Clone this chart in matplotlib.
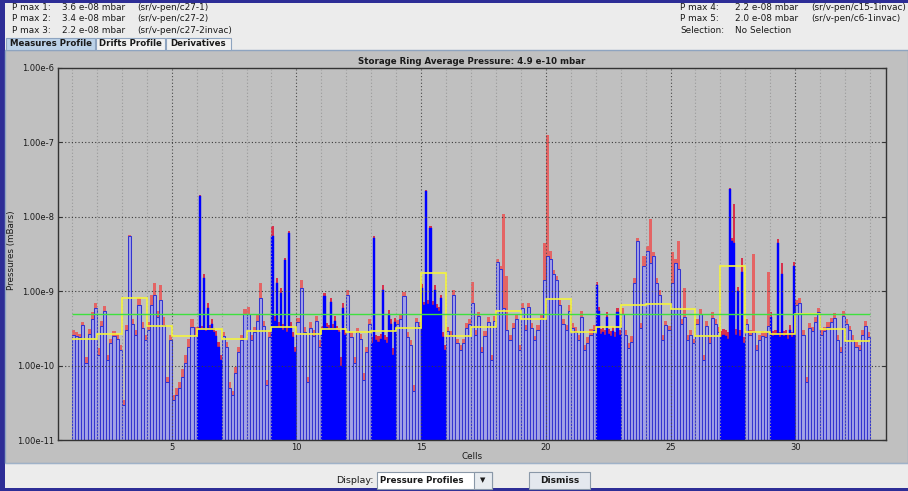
import numpy as np
import matplotlib
matplotlib.use("Agg")
import matplotlib.pyplot as plt
from matplotlib.patches import Rectangle

W, H = 908, 491
UNIT = 1e-10  # values below are in units of 1e-10 mbar

cells = list(range(1, 33))
dense_cells = [6, 9, 11, 13, 15, 22, 27, 29]
ring_average = 4.9e-10

cell_average_e10 = [2.28, 2.7, 8.0, 3.4, 2.5, 3.1, 2.25, 2.9, 3.27, 2.7, 3.1, 2.86,
                    2.95, 3.2, 17.4, 2.5, 3.33, 5.4, 4.2, 7.9, 2.86, 3.27, 6.5, 6.7,
                    5.7, 2.5, 21.8, 2.83, 2.63, 4.9, 3.1, 2.14]

blue_e10 = [
    [2.6, 2.5, 2.4, 3.5, 1.1, 2.7, 4.2, 6.0],
    [1.4, 3.4, 5.5, 1.2, 2.0, 2.5, 2.3, 1.6],
    [0.3, 3.0, 55, 3.6, 2.6, 6.5, 3.2, 2.2],
    [3.0, 6.5, 9.0, 4.5, 7.5, 3.5, 0.6, 2.2],
    [0.35, 0.4, 0.5, 0.7, 1.1, 1.8, 3.3, 2.5],
    [3.0, 190, 3.1, 15, 2.9, 6.0, 3.2, 3.6, 2.8, 2.5, 1.8, 1.2],
    [2.5, 1.8, 0.5, 0.4, 0.8, 1.5, 2.2, 5.0],
    [5.0, 2.2, 2.8, 4.0, 8.0, 3.4, 0.55, 2.4],
    [55, 4.0, 13, 3.3, 9.5, 3.0, 26, 2.8, 60, 3.2, 2.4, 1.5],
    [3.8, 11, 2.8, 0.6, 3.2, 2.5, 4.0, 1.8],
    [3.0, 8.5, 3.3, 3.1, 7.2, 3.2, 4.0, 3.0, 2.8, 1.0, 6.0, 2.6],
    [9.0, 2.4, 1.1, 2.8, 2.3, 0.65, 1.5, 3.6],
    [2.0, 52, 2.2, 2.1, 2.3, 10.5, 2.2, 2.0, 5.0, 3.6, 1.4, 3.8],
    [3.6, 4.2, 8.5, 2.4, 1.9, 0.45, 3.8, 3.4],
    [11, 6.5, 225, 6.8, 70, 6.6, 10.5, 6.0, 5.5, 8.0, 2.4, 1.6],
    [2.9, 2.5, 9.0, 2.0, 1.6, 2.0, 3.2, 3.6],
    [7.0, 2.6, 4.6, 1.5, 2.5, 3.9, 1.2, 4.0],
    [25, 20, 6.0, 3.0, 2.2, 3.2, 4.2, 1.6],
    [6.0, 3.0, 6.2, 3.2, 2.2, 3.0, 4.2, 14],
    [30, 27, 17, 14, 6.5, 3.6, 3.0, 5.5],
    [3.2, 2.8, 2.2, 4.5, 1.6, 2.0, 2.6, 3.0],
    [12, 5.5, 2.7, 2.8, 2.6, 4.5, 2.7, 2.5, 2.9, 2.4, 5.2, 2.6],
    [5.0, 2.6, 1.7, 2.1, 13, 48, 3.2, 22],
    [35, 24, 30, 13, 9.0, 2.2, 3.5, 3.0],
    [13, 24, 20, 3.6, 4.5, 2.2, 2.6, 2.0],
    [3.6, 5.0, 1.2, 3.4, 2.0, 4.4, 3.6, 2.8],
    [2.4, 2.6, 2.5, 2.3, 240, 48, 45, 2.6, 10, 2.5, 18, 2.0],
    [3.6, 2.6, 2.8, 1.6, 2.2, 2.5, 2.4, 3.4],
    [4.5, 2.5, 2.6, 44, 2.4, 17, 2.5, 2.6, 2.3, 3.0, 2.4, 22],
    [6.5, 7.0, 2.6, 0.6, 3.2, 2.9, 3.9, 5.2],
    [2.6, 2.9, 3.3, 3.8, 4.4, 2.2, 1.5, 4.6],
    [3.6, 3.0, 2.2, 1.8, 1.6, 2.6, 3.4, 2.4],
]

red_e10 = [
    [3.0, 2.8, 2.7, 3.9, 1.3, 3.1, 5.2, 7.0],
    [1.7, 4.0, 6.3, 1.4, 2.3, 2.9, 2.7, 1.9],
    [0.35, 3.5, 57, 4.2, 3.0, 8.0, 3.8, 2.6],
    [3.8, 9.0, 13, 5.5, 12, 4.5, 0.7, 2.6],
    [0.4, 0.5, 0.6, 0.9, 1.4, 2.3, 4.2, 3.3],
    [3.3, 195, 3.4, 17, 3.2, 7.0, 3.5, 4.2, 3.2, 2.9, 2.1, 1.4],
    [2.8, 2.1, 0.6, 0.45, 0.95, 1.8, 2.6, 5.8],
    [6.2, 2.6, 3.3, 4.8, 13, 4.0, 0.65, 2.8],
    [75, 4.6, 15, 3.9, 11, 3.6, 28, 3.3, 65, 3.8, 2.8, 1.8],
    [4.3, 14, 3.3, 0.7, 3.8, 3.0, 4.6, 2.2],
    [3.4, 9.5, 3.7, 3.5, 8.2, 3.6, 4.6, 3.4, 3.2, 1.3, 7.0, 3.0],
    [10.5, 2.8, 1.3, 3.2, 2.7, 0.8, 1.8, 4.2],
    [2.4, 56, 2.6, 2.5, 2.7, 12, 2.6, 2.4, 5.6, 4.2, 1.7, 4.4],
    [4.1, 4.8, 9.8, 2.8, 2.2, 0.55, 4.4, 3.9],
    [12.5, 7.2, 230, 7.5, 76, 7.4, 12, 6.8, 6.2, 9.0, 2.8, 1.9],
    [3.3, 2.9, 10.5, 2.3, 1.9, 2.3, 3.7, 4.2],
    [13.5, 3.0, 5.3, 1.8, 2.9, 4.5, 1.4, 4.6],
    [27, 22, 110, 16, 2.6, 3.7, 4.9, 1.9],
    [6.9, 3.5, 7.0, 3.7, 2.5, 3.5, 5.0, 44],
    [1260, 35, 19, 16, 7.5, 4.2, 3.5, 6.5],
    [3.7, 3.3, 2.6, 5.5, 1.9, 2.4, 3.1, 3.5],
    [13.5, 6.2, 3.1, 3.2, 3.0, 5.2, 3.1, 2.9, 3.3, 2.8, 6.0, 3.0],
    [5.9, 3.0, 2.0, 2.5, 15, 52, 3.7, 30],
    [40, 92, 34, 15, 10.5, 2.6, 4.0, 3.4],
    [34, 27, 48, 4.2, 11, 2.6, 3.0, 2.3],
    [4.2, 5.8, 1.4, 4.0, 2.4, 5.2, 4.2, 3.3],
    [2.9, 3.1, 3.0, 2.8, 245, 52, 150, 3.1, 11.5, 3.0, 28, 2.4],
    [4.2, 3.0, 32, 1.9, 2.6, 2.9, 2.8, 18],
    [5.2, 2.9, 3.0, 50, 2.8, 24, 2.9, 3.0, 2.7, 3.5, 2.8, 25],
    [7.6, 8.0, 3.0, 0.7, 3.7, 3.3, 4.5, 6.0],
    [3.0, 3.3, 3.8, 4.4, 5.1, 2.6, 1.8, 5.4],
    [4.2, 3.4, 2.6, 2.1, 1.9, 3.0, 4.0, 2.8],
]

ytick_values = [1e-11, 1e-10, 1e-9, 1e-8, 1e-7, 1e-6]
ytick_labels = ["1.00e-11", "1.00e-10", "1.00e-9", "1.00e-8", "1.00e-7", "1.00e-6"]
xtick_values = [5, 10, 15, 20, 25, 30]

pmax_left = [("P max 1:", "3.6 e-08 mbar", "(sr/v-pen/c27-1)"),
             ("P max 2:", "3.4 e-08 mbar", "(sr/v-pen/c27-2)"),
             ("P max 3:", "2.2 e-08 mbar", "(sr/v-pen/c27-2invac)")]
pmax_right = [("P max 4:", "2.2 e-08 mbar", "(sr/v-pen/c15-1invac)"),
              ("P max 5:", "2.0 e-08 mbar", "(sr/v-pen/c6-1invac)"),
              ("Selection:", "No Selection", "")]
tab_names = ["Measures Profile", "Drifts Profile", "Derivatives"]
title = "Storage Ring Average Pressure: 4.9 e-10 mbar"

# ---------------------------------------------------------------- figure
fig = plt.figure(figsize=(W / 100, H / 100), dpi=100, facecolor="#2d2d96")


def fx(x):
    return x / W


def fy(y):
    return 1 - y / H


def rect(x0, y0, x1, y1, **kw):
    kw.setdefault("zorder", 0.5)
    fig.patches.append(Rectangle((fx(x0), fy(y1)), (x1 - x0) / W, (y1 - y0) / H,
                                 transform=fig.transFigure, **kw))


def text(x, y, s, **kw):
    kw.setdefault("fontsize", 6.4)
    kw.setdefault("va", "center")
    kw.setdefault("color", "#1a1a1a")
    fig.text(fx(x), fy(y), s, **kw)


PANEL = "#ececec"
GRAY = "#c0c0c0"
rect(5, 3, 908, 488, facecolor=PANEL, edgecolor="none")
# plot panel
rect(5, 50, 908, 463, facecolor=GRAY, edgecolor="#8ea4c0", linewidth=1.0)
rect(5, 463, 908, 464, facecolor="#9fb2c8", edgecolor="none")

# info text
for row, (a, b, c) in enumerate(pmax_left):
    y = 7.5 + row * 11.3
    text(12, y, a)
    text(62, y, b)
    text(137, y, c)
for row, (a, b, c) in enumerate(pmax_right):
    y = 7.5 + row * 11.3
    text(680, y, a)
    text(735, y, b)
    text(811, y, c)

# tabs
tab_x = [(6, 95), (96, 165), (166, 231)]
for i, (name, (x0, x1)) in enumerate(zip(tab_names, tab_x)):
    fc = "#bcd2e8" if i == 0 else "#f2f2f2"
    rect(x0, 37.5, x1, 50, facecolor=fc, edgecolor="#8ea4c0", linewidth=0.8)
    text((x0 + x1) / 2, 44, name, ha="center", fontweight="bold", fontsize=6.2)

# title
text(472, 61, title, ha="center", fontweight="bold", fontsize=6.2)

# bottom controls
text(374, 480.5, "Display:", ha="right", fontsize=6.8)
rect(377, 472, 492, 488.5, facecolor="white", edgecolor="#8a98a8", linewidth=0.8)
rect(474, 472, 492, 488.5, facecolor="#e8ecf0", edgecolor="#8a98a8", linewidth=0.8)
text(380, 480.5, "Pressure Profiles", fontweight="bold", fontsize=6.2)
text(483, 480.5, "\u25bc", ha="center", fontsize=5)
rect(529, 472, 590, 489, facecolor="#e4e8ee", edgecolor="#8a98a8", linewidth=0.8)
text(559.5, 480.5, "Dismiss", ha="center", fontweight="bold", fontsize=6.5)

# ---------------------------------------------------------------- axes
ax = fig.add_axes([fx(58), fy(440), (886 - 58) / W, (440 - 68) / H])
ax.set_zorder(2)
ax.set_facecolor(GRAY)
ax.set_yscale("log")
ax.set_ylim(1e-11, 1e-6)
ax.set_xlim(0.44, 33.64)

floor = 1e-12
for cell, bvals, rvals in zip(cells, blue_e10, red_e10):
    n = len(bvals)
    w = 1.0 / n
    xs = cell + (np.arange(n) + 0.5) * w
    b = np.array(bvals) * UNIT
    r = np.array(rvals) * UNIT
    if cell in dense_cells:
        ax.bar(xs, r - floor, bottom=floor, width=w, color="#d8304c",
               linewidth=0, zorder=1)
        ax.bar(xs, b - floor, bottom=floor, width=w, color="#0000ff",
               edgecolor="#0000ff", linewidth=0.3, zorder=2)
    else:
        ax.bar(xs, r - floor, bottom=floor, width=w, color="#e46464",
               linewidth=0, zorder=1)
        ax.bar(xs, b - floor, bottom=floor, width=w, facecolor="#a2a2e6",
               edgecolor="#3434d0", linewidth=0.75, zorder=2)

# grid (drawn above the bars)
for c in cells + [cells[-1] + 1]:
    major = c % 5 == 0
    ax.axvline(c, color="#4a4a4a" if major else "#9a9a9a", lw=0.8,
               ls=(0, (1, 2)), zorder=3)
for v in ytick_values[1:-1]:
    ax.axhline(v, color="#3a3a3a", lw=0.8, ls=(0, (1, 2)), zorder=3)

edges = np.append(cells, cells[-1] + 1)
ax.stairs(np.array(cell_average_e10) * UNIT, edges=edges, baseline=None,
          color="#f4f43c", lw=1.2, zorder=5)
ax.hlines(ring_average, cells[0], cells[-1] + 1, color="#3ee03e", lw=1.0, zorder=6)

ax.set_yticks(ytick_values)
ax.set_yticklabels(ytick_labels)
ax.yaxis.set_minor_locator(matplotlib.ticker.NullLocator())
ax.set_xticks(xtick_values)
ax.set_xticklabels([str(v) for v in xtick_values])
ax.tick_params(axis="both", labelsize=6, colors="#333333", labelcolor="#1a1a1a",
               direction="in", length=3, width=0.8, right=True, pad=3)
ax.tick_params(axis="x", length=0, pad=2)
for s in ax.spines.values():
    s.set_color("#333333")
    s.set_linewidth(1.0)

ax.set_xlabel("Cells", fontsize=6.3, labelpad=0, color="#1a1a1a")
fig.text(fx(12), fy(250), "Pressures (mBars)", rotation=90, ha="center",
         va="center", fontsize=6.3, color="#1a1a1a")

fig.savefig("out.png", dpi=100, facecolor=fig.get_facecolor())
